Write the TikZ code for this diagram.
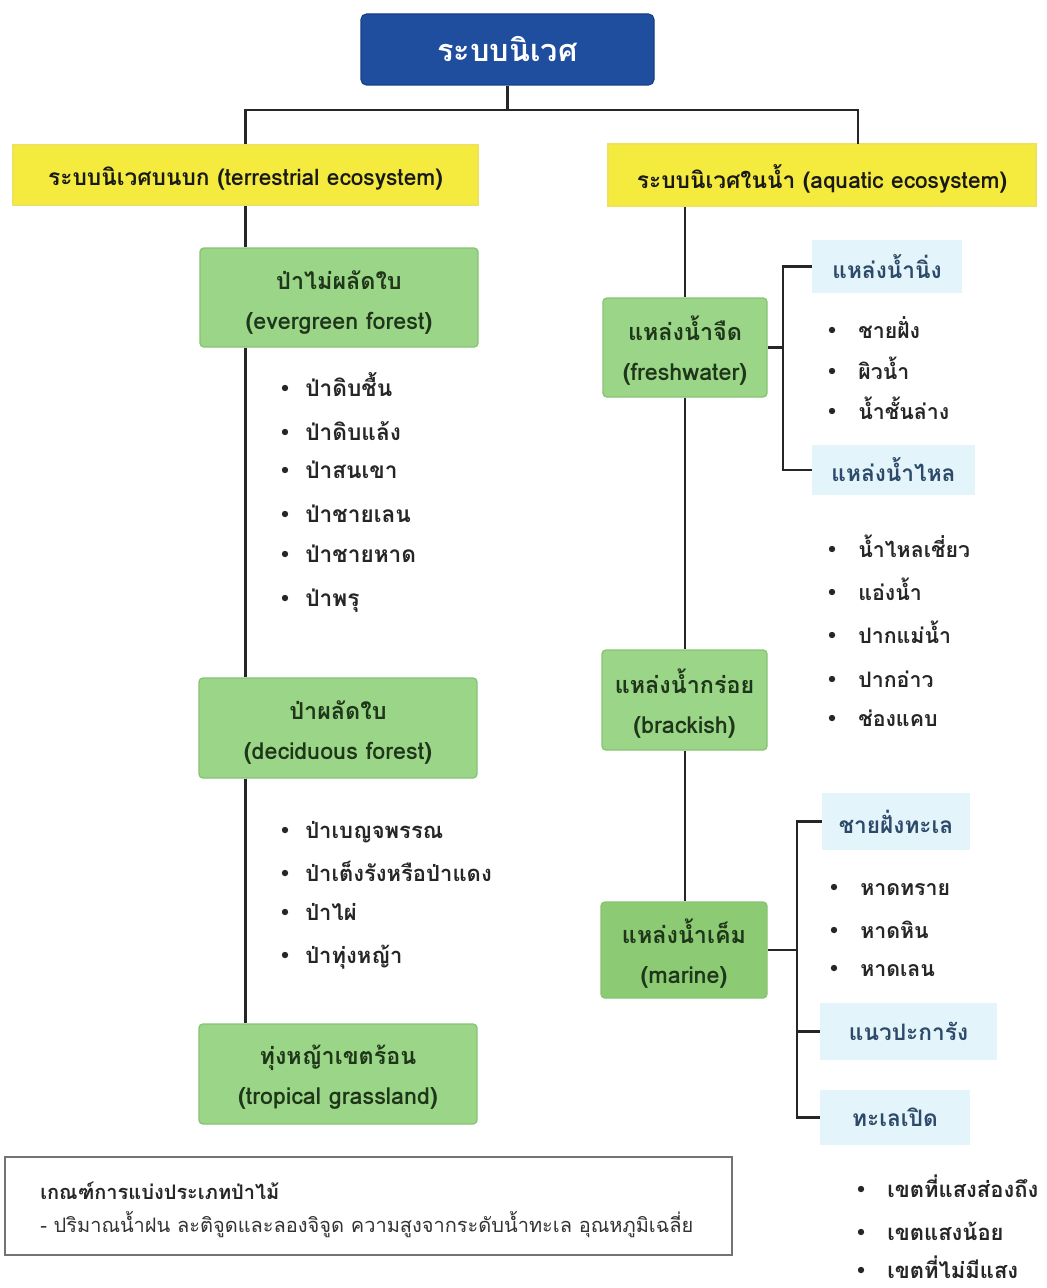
\documentclass[tikz,border=0pt]{standalone}
\usepackage{fontspec}
\setmainfont{Loma}[Script=Thai]
\usetikzlibrary{calc}
\definecolor{rootblue}{HTML}{1F4E9E}
\definecolor{rootedge}{HTML}{173F86}
\definecolor{ecoyellow}{HTML}{F4EB3E}
\definecolor{ecoedge}{HTML}{EDE25A}
\definecolor{forestgreen}{HTML}{9BD587}
\definecolor{marinegreen}{HTML}{8CCB74}
\definecolor{greenedge}{HTML}{86C473}
\definecolor{zonecyan}{HTML}{E3F5FA}
\definecolor{zonetext}{HTML}{2E4A6A}
\definecolor{boxtext}{HTML}{1E3619}
\definecolor{itemtext}{HTML}{262626}

% bullet item: name, x, y, gap, text, size
\newcommand\bitem[6]{%
  \fill[itemtext] (#2,#3) circle (3.2);
  \node[itemtxt,font=\fontsize{#6}{#6}\selectfont\bfseries] (#1) at (#2+#4,#3+5) {#5};}

\begin{document}
\begin{tikzpicture}[x=0.75pt,y=-0.75pt,
  link/.style={line width=1.8pt,draw=black!85},
  rootbox/.style={fill=rootblue,draw=rootedge,line width=0.8pt,rounded corners=4pt,
    text=white,font=\fontsize{23}{27}\selectfont\bfseries},
  ecobox/.style={fill=ecoyellow,draw=ecoedge,line width=1.5pt,inner sep=0pt},
  ecolabel/.style={inner sep=0pt,text=black!90,font=\fontsize{17}{20}\selectfont\bfseries},
  typebox/.style={fill=forestgreen,draw=greenedge,line width=1pt,rounded corners=3pt,inner sep=0pt},
  typelabel/.style={inner sep=0pt,align=center,text=boxtext,
    font=\fontsize{17.5}{30}\selectfont\bfseries},
  zonebox/.style={fill=zonecyan,inner sep=0pt,text=zonetext,
    font=\fontsize{17}{20}\selectfont\bfseries},
  itemtxt/.style={anchor=mid west,inner sep=0pt,text=itemtext},
]
\useasboundingbox (0,0) rectangle (1046,1288);
\fill[white] (0,0) rectangle (1046,1288);

% ---- top level
\node[rootbox,minimum width=219.75pt,minimum height=53.25pt] (root) at (507.5,49.5) {ระบบนิเวศ};

\node[ecobox,minimum width=348.75pt,minimum height=45pt] (ter) at (245.5,175) {};
\node[ecolabel] (terlab) at (245.5,179) {ระบบนิเวศบนบก (terrestrial ecosystem)};
\node[ecobox,minimum width=321pt,minimum height=46.5pt] (aqu) at (822,175) {};
\node[ecolabel] (aqulab) at (822,179) {ระบบนิเวศในน้ำ (aquatic ecosystem)};
\coordinate (aquin) at (858,144);

\coordinate (split) at (507.5,110);
\draw[link] (root.south) -- (split);
\draw[link] (ter.north) |- (split) -| (aquin);

% ---- terrestrial branch
\node[typebox,minimum width=208.5pt,minimum height=74.25pt] (eg) at (339,297.5) {};
\node[typelabel] (eglab) at (339,303) {ป่าไม่ผลัดใบ\\(evergreen forest)};
\node[typebox,minimum width=208.5pt,minimum height=75pt] (dec) at (338,728) {};
\node[typelabel] (declab) at (338,733) {ป่าผลัดใบ\\(deciduous forest)};
\node[typebox,minimum width=208.5pt,minimum height=75pt] (gra) at (338,1074) {};
\node[typelabel] (gralab) at (338,1077) {ทุ่งหญ้าเขตร้อน\\(tropical grassland)};

\draw[link] (ter.south) -- (ter.south |- eg.north);
\draw[link] (eg.south -| ter.south) -- (dec.north -| ter.south);
\draw[link] (dec.south -| ter.south) -- (gra.north -| ter.south);

\bitem{eg1}{285}{388}{20}{ป่าดิบชื้น}{17}
\bitem{eg2}{285}{432}{20}{ป่าดิบแล้ง}{17}
\bitem{eg3}{285}{470}{20}{ป่าสนเขา}{17}
\bitem{eg4}{285}{514}{20}{ป่าชายเลน}{17}
\bitem{eg5}{285}{554}{20}{ป่าชายหาด}{17}
\bitem{eg6}{285}{598}{20}{ป่าพรุ}{17}

\bitem{dc1}{285}{830}{20}{ป่าเบญจพรรณ}{16.5}
\bitem{dc2}{285}{873}{20}{ป่าเต็งรังหรือป่าแดง}{16.5}
\bitem{dc3}{285}{912}{20}{ป่าไผ่}{16.5}
\bitem{dc4}{285}{955}{20}{ป่าทุ่งหญ้า}{16.5}

% ---- aquatic branch
\node[typebox,minimum width=123pt,minimum height=74.25pt] (fw) at (685,347.5) {};
\node[typelabel] (fwlab) at (685,351) {แหล่งน้ำจืด\\(freshwater)};
\node[typebox,minimum width=123.75pt,minimum height=75pt] (br) at (684.5,700) {};
\node[typelabel] (brlab) at (684.5,704) {แหล่งน้ำกร่อย\\(brackish)};
\node[typebox,fill=marinegreen,minimum width=124.5pt,minimum height=72pt] (ma) at (684,950) {};
\node[typelabel] (malab) at (684,954) {แหล่งน้ำเค็ม\\(marine)};

\draw[link] (fw.north |- aqu.south) -- (fw.north);
\draw[link] (fw.south) -- (fw.south |- br.north);
\draw[link] (br.south -| fw.south) -- (ma.north -| fw.south);

% freshwater zones
\node[zonebox,minimum width=112.5pt,minimum height=39.75pt] (still) at (887,266.5) {แหล่งน้ำนิ่ง};
\node[zonebox,minimum width=122.25pt,minimum height=37.5pt] (flow) at (893.5,470) {แหล่งน้ำไหล};
\coordinate (fwbar) at (783,0);
\draw[link] (fw.east) -- (fw.east -| fwbar);
\draw[link] (still.west) -- (still.west -| fwbar) -- (flow.west -| fwbar) -- (flow.west);

\bitem{st1}{832}{330}{26}{ชายฝั่ง}{16}
\bitem{st2}{832}{371}{26}{ผิวน้ำ}{16}
\bitem{st3}{832}{411}{26}{น้ำชั้นล่าง}{16}

\bitem{fl1}{832}{549}{26}{น้ำไหลเชี่ยว}{16}
\bitem{fl2}{832}{592}{26}{แอ่งน้ำ}{16}
\bitem{fl3}{832}{635}{26}{ปากแม่น้ำ}{16}
\bitem{fl4}{832}{679}{26}{ปากอ่าว}{16}
\bitem{fl5}{832}{718}{26}{ช่องแคบ}{16}

% marine zones
\node[zonebox,minimum width=111pt,minimum height=42.75pt] (coast) at (896,821.5) {ชายฝั่งทะเล};
\node[zonebox,minimum width=132.75pt,minimum height=42.75pt] (reef) at (908.5,1031.5) {แนวปะการัง};
\node[zonebox,minimum width=112.5pt,minimum height=41.25pt] (open) at (895,1117.5) {ทะเลเปิด};
\coordinate (mabar) at (797,0);
\draw[link] (ma.east) -- (ma.east -| mabar);
\draw[link] (coast.west) -- (coast.west -| mabar) -- (open.west -| mabar) -- (open.west);
\draw[link] (reef.west -| mabar) -- (reef.west);

\bitem{co1}{834}{887}{26}{หาดทราย}{16}
\bitem{co2}{834}{930}{26}{หาดหิน}{16}
\bitem{co3}{834}{968}{26}{หาดเลน}{16}

\bitem{op1}{861}{1189}{26}{เขตที่แสงส่องถึง}{16.5}
\bitem{op2}{861}{1232}{26}{เขตแสงน้อย}{16.5}
\bitem{op3}{861}{1270}{26}{เขตที่ไม่มีแสง}{16.5}

% ---- criteria note
\node[draw=black!55,line width=1.2pt,minimum width=545.25pt,minimum height=73.5pt] (note) at (368.5,1206) {};
\node[anchor=mid west,inner sep=0pt,text=black!85,font=\fontsize{15}{18}\selectfont\bfseries]
  (notehead) at (40,1196) {เกณฑ์การแบ่งประเภทป่าไม้};
\node[anchor=mid west,inner sep=0pt,text=black!80,font=\fontsize{15}{18}\selectfont]
  (notebody) at (40,1229) {- ปริมาณน้ำฝน ละติจูดและลองจิจูด ความสูงจากระดับน้ำทะเล อุณหภูมิเฉลี่ย};
\end{tikzpicture}
\end{document}
